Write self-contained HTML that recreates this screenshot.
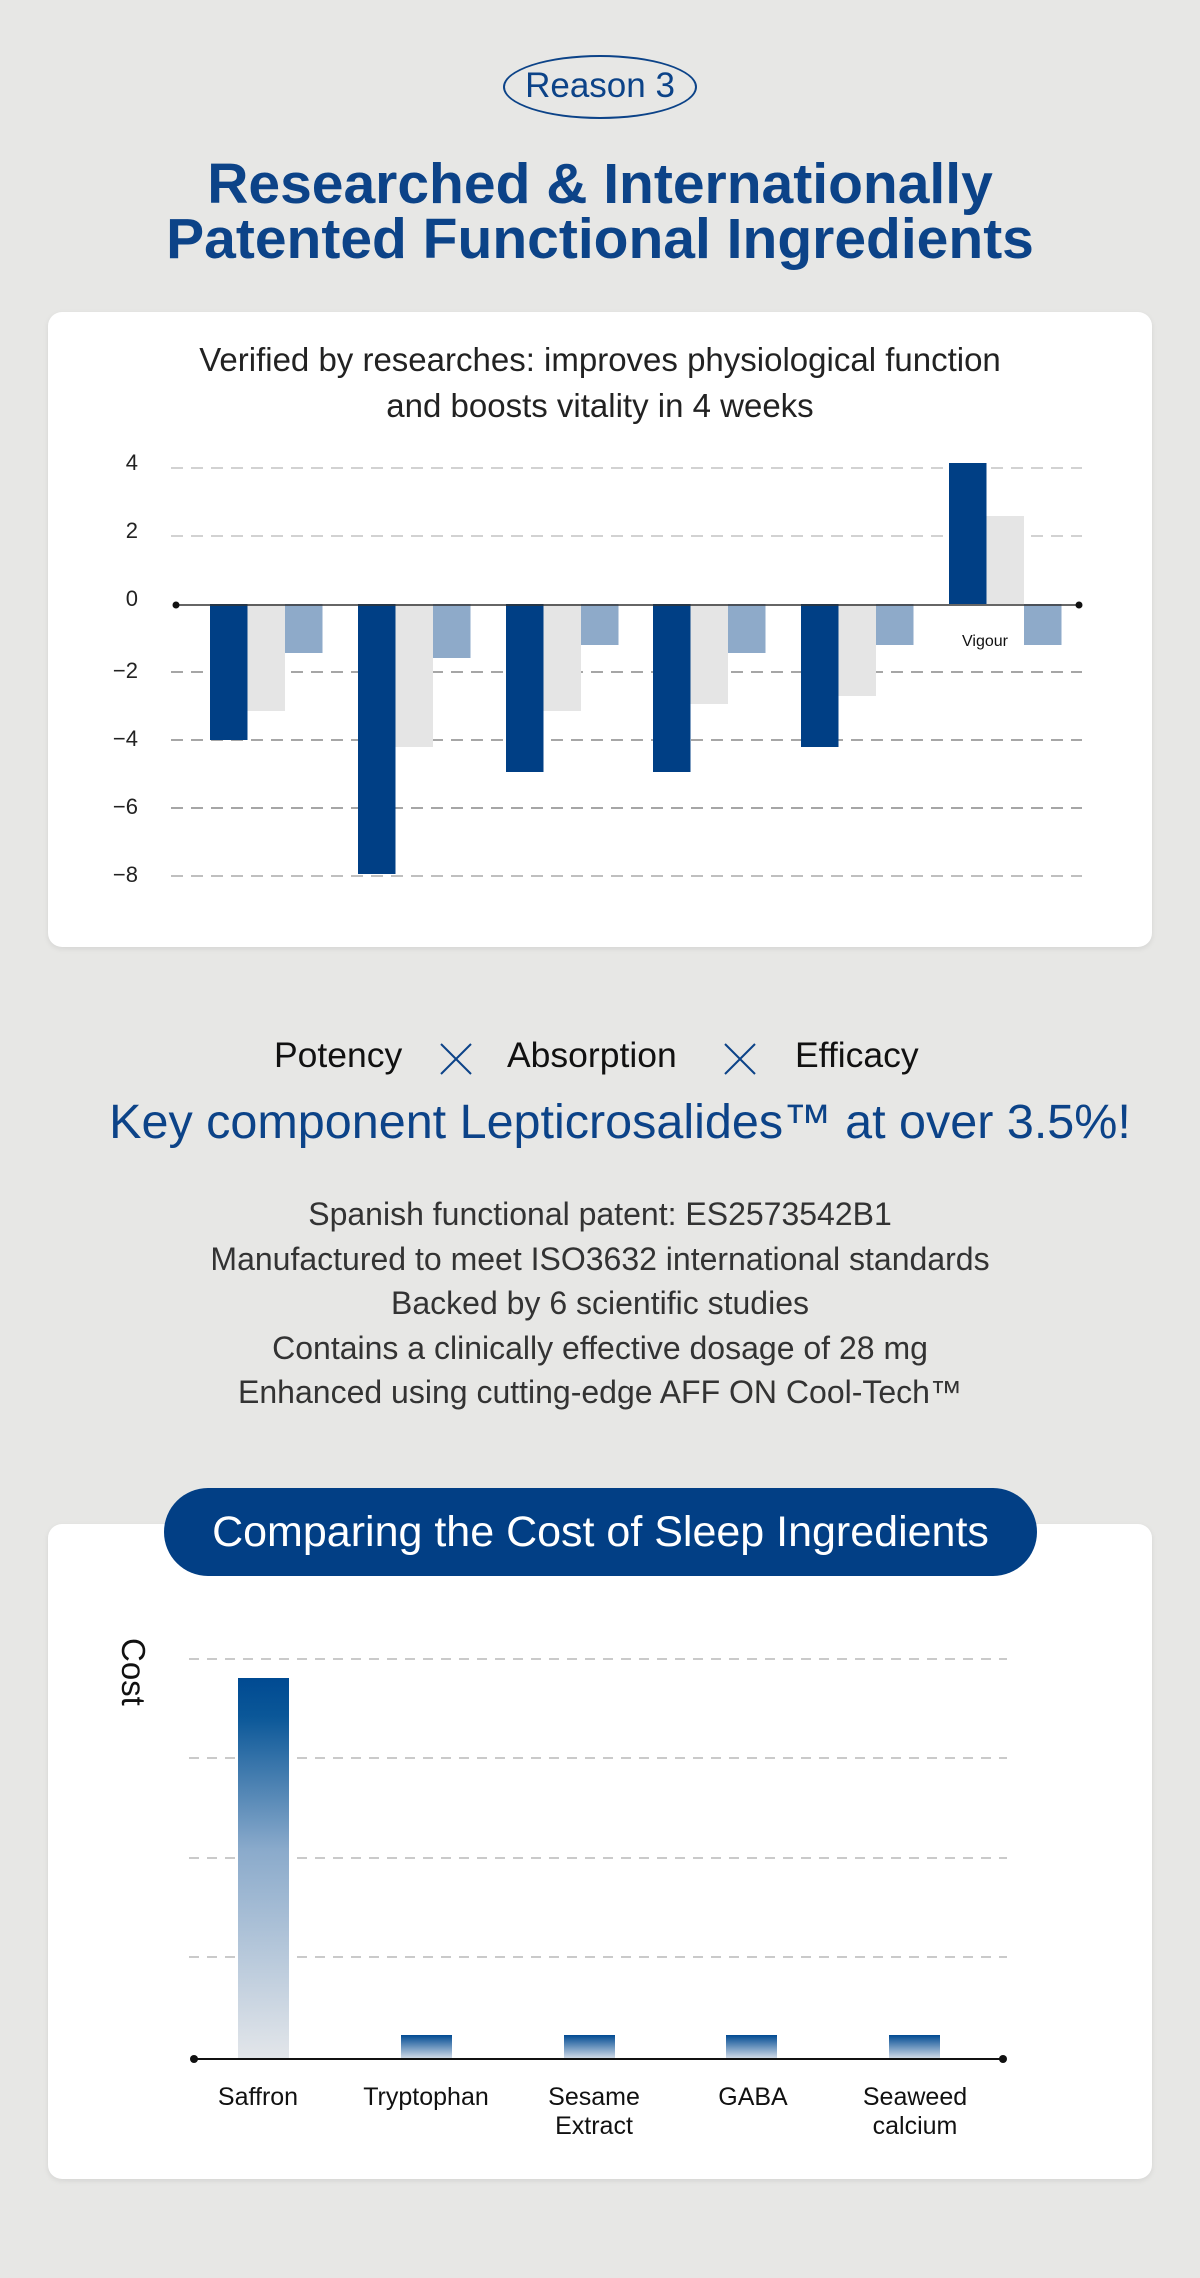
<!DOCTYPE html>
<html><head><meta charset="utf-8"><style>
body{margin:0;background:#e7e7e5;font-family:"Liberation Sans",sans-serif;}
#p{position:relative;width:1200px;height:2278px;overflow:hidden;}
.a{position:absolute;}
.c{position:absolute;left:0;width:1200px;text-align:center;}
.card{position:absolute;left:48px;width:1104px;background:#fff;border-radius:14px;box-shadow:0 2px 6px rgba(0,0,0,0.08);}
</style></head><body><div id="p">
<div class="a" style="left:503px;top:55px;width:190px;height:60px;border:2.5px solid #0c4388;border-radius:50%;"></div>
<div class="c" style="top:66px;font-size:35px;color:#0c4388;">Reason 3</div>
<div class="c" style="top:157px;font-size:57px;font-weight:bold;color:#0c4388;line-height:55px;">Researched &amp; Internationally<br>Patented Functional Ingredients</div>
<div class="card" style="top:312px;height:635px;"></div>
<div class="c" style="top:337px;font-size:33px;color:#222;line-height:46px;">Verified by researches: improves physiological function<br>and boosts vitality in 4 weeks</div>
<svg class="a" style="left:0;top:0" width="1200" height="960">
<g stroke-dasharray="12 8" stroke-width="1.5">
<line x1="171" y1="468" x2="1082" y2="468" stroke="#c4c4c4"/>
<line x1="171" y1="536" x2="1082" y2="536" stroke="#c4c4c4"/>
<line x1="171" y1="672" x2="1082" y2="672" stroke="#888"/>
<line x1="171" y1="740" x2="1082" y2="740" stroke="#888"/>
<line x1="171" y1="808" x2="1082" y2="808" stroke="#888"/>
<line x1="171" y1="876" x2="1082" y2="876" stroke="#aaa"/>
</g>
<g font-size="22" fill="#222" text-anchor="end" font-family="Liberation Sans">
<text x="138" y="470">4</text><text x="138" y="538">2</text><text x="138" y="606">0</text>
<text x="138" y="678">−2</text><text x="138" y="746">−4</text><text x="138" y="814">−6</text><text x="138" y="882">−8</text>
</g>
<g>
<rect x="210" y="604" width="37.5" height="136" fill="#003f85"/><rect x="247.5" y="604" width="37.5" height="107" fill="#e5e5e5"/><rect x="285" y="604" width="37.5" height="49" fill="#8eaac9"/>
<rect x="358" y="604" width="37.5" height="270" fill="#003f85"/><rect x="395.5" y="604" width="37.5" height="143" fill="#e5e5e5"/><rect x="433" y="604" width="37.5" height="54" fill="#8eaac9"/>
<rect x="506" y="604" width="37.5" height="168" fill="#003f85"/><rect x="543.5" y="604" width="37.5" height="107" fill="#e5e5e5"/><rect x="581" y="604" width="37.5" height="41" fill="#8eaac9"/>
<rect x="653" y="604" width="37.5" height="168" fill="#003f85"/><rect x="690.5" y="604" width="37.5" height="100" fill="#e5e5e5"/><rect x="728" y="604" width="37.5" height="49" fill="#8eaac9"/>
<rect x="801" y="604" width="37.5" height="143" fill="#003f85"/><rect x="838.5" y="604" width="37.5" height="92" fill="#e5e5e5"/><rect x="876" y="604" width="37.5" height="41" fill="#8eaac9"/>
<rect x="949" y="463" width="37.5" height="141" fill="#003f85"/><rect x="986.5" y="516" width="37.5" height="88" fill="#e5e5e5"/><rect x="1024" y="604" width="37.5" height="41" fill="#8eaac9"/>
</g>
<line x1="175" y1="605" x2="1079" y2="605" stroke="#333" stroke-width="1.5"/>
<circle cx="176" cy="605" r="3.5" fill="#111"/><circle cx="1079" cy="605" r="3.5" fill="#111"/>
<text x="962" y="646" font-size="16" fill="#111" font-family="Liberation Sans">Vigour</text>
</svg>
<div class="a" style="left:0;top:1035px;width:1200px;height:44px;font-size:35.5px;color:#111;">
<span class="a" style="left:274px">Potency</span>
<span class="a" style="left:507px">Absorption</span>
<span class="a" style="left:795px">Efficacy</span>
</div>
<svg class="a" style="left:0;top:1040px" width="1200" height="40">
<g stroke="#0c4388" stroke-width="2"><line x1="441" y1="4" x2="471" y2="34"/><line x1="471" y1="4" x2="441" y2="34"/>
<line x1="725" y1="4" x2="755" y2="34"/><line x1="755" y1="4" x2="725" y2="34"/></g></svg>
<div class="c" style="top:1094px;left:20px;font-size:48.5px;color:#0c4388;">Key component Lepticrosalides™ at over 3.5%!</div>
<div class="c" style="top:1192px;font-size:32px;color:#333;line-height:44.5px;">Spanish functional patent: ES2573542B1<br>Manufactured to meet ISO3632 international standards<br>Backed by 6 scientific studies<br>Contains a clinically effective dosage of 28 mg<br>Enhanced using cutting-edge AFF ON Cool-Tech™</div>
<div class="card" style="top:1524px;height:655px;"></div>
<div class="a" style="left:164px;top:1488px;width:873px;height:88px;background:#023f85;border-radius:44px;color:#fff;font-size:43px;text-align:center;line-height:88px;">Comparing the Cost of Sleep Ingredients</div>
<svg class="a" style="left:0;top:1600px" width="1200" height="560">
<defs><linearGradient id="g" x1="0" y1="0" x2="0" y2="1"><stop offset="0" stop-color="#004a92"/><stop offset="0.1" stop-color="#0a5798"/><stop offset="0.45" stop-color="#8aaacb"/><stop offset="1" stop-color="#e3e6ea"/></linearGradient>
<linearGradient id="g2" x1="0" y1="0" x2="0" y2="1"><stop offset="0" stop-color="#004a92"/><stop offset="1" stop-color="#d7dfea"/></linearGradient></defs>
<text transform="translate(122,38) rotate(90)" font-size="33" fill="#111" font-family="Liberation Sans">Cost</text>
<g stroke="#b8b8b8" stroke-dasharray="10 8" stroke-width="1.5">
<line x1="189" y1="59" x2="1007" y2="59"/><line x1="189" y1="158" x2="1007" y2="158"/><line x1="189" y1="258" x2="1007" y2="258"/><line x1="189" y1="357" x2="1007" y2="357"/></g>
<rect x="238" y="78" width="51" height="381" fill="url(#g)"/>
<rect x="401" y="435" width="51" height="24" fill="url(#g2)"/>
<rect x="564" y="435" width="51" height="24" fill="url(#g2)"/>
<rect x="726" y="435" width="51" height="24" fill="url(#g2)"/>
<rect x="889" y="435" width="51" height="24" fill="url(#g2)"/>
<line x1="194" y1="459" x2="1003" y2="459" stroke="#111" stroke-width="2"/>
<circle cx="194" cy="459" r="4" fill="#111"/><circle cx="1003" cy="459" r="4" fill="#111"/>
<g font-size="25" fill="#111" text-anchor="middle" font-family="Liberation Sans">
<text x="258" y="505">Saffron</text><text x="426" y="505">Tryptophan</text>
<text x="594" y="505">Sesame</text><text x="594" y="534">Extract</text>
<text x="753" y="505">GABA</text>
<text x="915" y="505">Seaweed</text><text x="915" y="534">calcium</text></g>
</svg>
</div></body></html>
